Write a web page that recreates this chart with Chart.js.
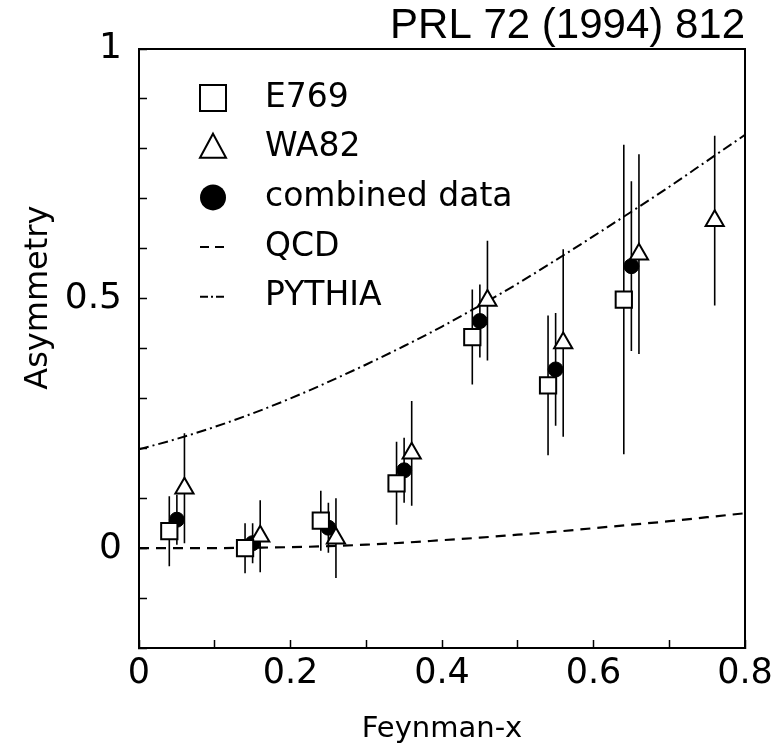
<!DOCTYPE html>
<html>
<head>
<meta charset="utf-8">
<title>Asymmetry vs Feynman-x</title>
<script src="https://cdn.jsdelivr.net/npm/chart.js@4.4.0/dist/chart.umd.min.js"></script>
<style>
  html, body { margin: 0; padding: 0; background: #fff; }
  canvas { display: block; }
</style>
</head>
<body>
<canvas id="asymChart" width="779" height="749"></canvas>
<script>
// --- static chart, no animation ---
Chart.defaults.animation = false;
Chart.defaults.font.family = '"DejaVu Sans", sans-serif';
Chart.defaults.color = '#000';

// E769 (open squares)
const e769X   = [0.04, 0.14, 0.24, 0.34, 0.44, 0.54, 0.64];
const e769Y   = [0.034, 0.0, 0.055, 0.13, 0.423, 0.326, 0.498];
const e769Err = [0.07, 0.05, 0.06, 0.083, 0.095, 0.14, 0.31];

// WA82 (open triangles)
const wa82X   = [0.06, 0.16, 0.26, 0.36, 0.46, 0.56, 0.66, 0.76];
const wa82Y   = [0.12, 0.024, 0.02, 0.19, 0.496, 0.411, 0.589, 0.656];
const wa82Err = [0.11, 0.072, 0.08, 0.105, 0.12, 0.188, 0.2, 0.17];

// combined data (filled circles)
const combX   = [0.05, 0.15, 0.25, 0.35, 0.45, 0.55, 0.65];
const combY   = [0.057, 0.01, 0.041, 0.156, 0.455, 0.358, 0.565];
const combErr = [0.05, 0.04, 0.05, 0.065, 0.073, 0.113, 0.17];

// theory curves
const curveX    = [0, 0.05, 0.1, 0.15, 0.2, 0.25, 0.3, 0.35, 0.4, 0.45, 0.5, 0.55, 0.6, 0.65, 0.7, 0.75, 0.8];
const qcdY      = [0, 0, 0, 0.001, 0.002, 0.004, 0.007, 0.011, 0.016, 0.021, 0.027, 0.033, 0.04, 0.047, 0.054, 0.062, 0.07];
const pythiaY   = [0.198, 0.219, 0.243, 0.27, 0.3, 0.333, 0.368, 0.405, 0.444, 0.486, 0.53, 0.577, 0.625, 0.674, 0.724, 0.776, 0.828];

// axis ticks
const xMin = 0, xMax = 0.8, xStep = 0.1;
const yMin = -0.2, yMax = 1.0, yStep = 0.1;
const xLabelEvery = 2;              // label 0, 0.2, 0.4 ...
const yLabels = { 0: '0', 5: '0.5', 10: '1' };

const pts = (xs, ys) => xs.map((x, i) => ({ x: x, y: ys[i] }));

// vertical error bars as one broken line per series (null breaks the line)
function errBars(xs, ys, es) {
  const out = [];
  xs.forEach((x, i) => {
    out.push({ x: x, y: ys[i] - es[i] });
    out.push({ x: x, y: ys[i] + es[i] });
    out.push({ x: x, y: null });
  });
  return out;
}

const barStyle = { showLine: true, spanGaps: false, pointRadius: 0, borderColor: '#000', borderWidth: 1.6, inLegend: false };

// legend drawn inside the frame, top left
const insetLegend = {
  id: 'insetLegend',
  afterDatasetsDraw(chart) {
    const { ctx, chartArea } = chart;
    const mx = chartArea.left + 74, tx = chartArea.left + 126;
    let y = chartArea.top + 49;
    ctx.save();
    ctx.font = '33px "DejaVu Sans", sans-serif';
    ctx.textBaseline = 'middle';
    ctx.textAlign = 'left';
    chart.data.datasets.filter(d => d.inLegend).forEach(d => {
      ctx.strokeStyle = '#000';
      ctx.fillStyle = '#fff';
      ctx.lineWidth = 2;
      ctx.setLineDash([]);
      ctx.beginPath();
      if (d.pointStyle === 'rect') {
        ctx.rect(mx - 13, y - 13, 26, 26);
        ctx.fill(); ctx.stroke();
      } else if (d.pointStyle === 'triangle') {
        ctx.moveTo(mx, y - 14); ctx.lineTo(mx + 13, y + 10); ctx.lineTo(mx - 13, y + 10); ctx.closePath();
        ctx.fill(); ctx.stroke();
      } else if (d.pointStyle === 'circle') {
        ctx.fillStyle = '#000';
        ctx.arc(mx, y, 13, 0, Math.PI * 2);
        ctx.fill();
      } else {
        ctx.setLineDash(d.legendDash);
        ctx.moveTo(mx - 13, y); ctx.lineTo(mx + 14, y);
        ctx.stroke();
      }
      ctx.setLineDash([]);
      ctx.fillStyle = '#000';
      ctx.fillText(d.label, tx, y);
      y += 49.7;
    });
    ctx.restore();
  }
};

function makeAsymChart() {
  const el = document.getElementById('asymChart');
  new Chart(el, {
    type: 'scatter',
    data: {
      datasets: [
        { label: 'E769', data: pts(e769X, e769Y), pointStyle: 'rect', pointRadius: 11.5,
          pointBackgroundColor: '#fff', pointBorderColor: '#000', pointBorderWidth: 2, inLegend: true },
        { label: 'WA82', data: pts(wa82X, wa82Y), pointStyle: 'triangle', pointRadius: 10.5,
          pointBackgroundColor: '#fff', pointBorderColor: '#000', pointBorderWidth: 2, inLegend: true },
        { label: 'combined data', data: pts(combX, combY), pointStyle: 'circle', pointRadius: 7.5,
          pointBackgroundColor: '#000', pointBorderColor: '#000', pointBorderWidth: 1, inLegend: true },
        { label: 'E769 err', data: errBars(e769X, e769Y, e769Err), ...barStyle },
        { label: 'WA82 err', data: errBars(wa82X, wa82Y, wa82Err), ...barStyle },
        { label: 'combined err', data: errBars(combX, combY, combErr), ...barStyle },
        { label: 'QCD', data: pts(curveX, qcdY), showLine: true, pointRadius: 0,
          borderColor: '#000', borderWidth: 2.2, borderDash: [10, 7], cubicInterpolationMode: 'monotone',
          inLegend: true, legendDash: [9, 6] },
        { label: 'PYTHIA', data: pts(curveX, pythiaY), showLine: true, pointRadius: 0,
          borderColor: '#000', borderWidth: 2, borderDash: [10, 4, 2, 4], cubicInterpolationMode: 'monotone',
          inLegend: true, legendDash: [8, 3, 2, 3] }
      ]
    },
    options: {
      responsive: false,
      animation: false,
      events: [],
      layout: { padding: { top: 5, right: 34, left: 0, bottom: 0 } },
      plugins: {
        legend: { display: false },
        tooltip: { enabled: false },
        title: {
          display: true,
          text: 'PRL 72 (1994) 812',
          align: 'end',
          color: '#000',
          font: { family: '"Liberation Sans", Arial, sans-serif', size: 42, weight: 'normal', lineHeight: 1 },
          padding: { top: 0, bottom: 2 }
        }
      },
      scales: {
        x: {
          type: 'linear', position: 'bottom', min: xMin, max: xMax,
          afterFit: s => { s.height = 101; },
          grid: { display: true, drawOnChartArea: false, drawTicks: true, tickLength: -8, tickColor: '#000', tickWidth: 1.5 },
          border: { display: true, color: '#000', width: 2 },
          ticks: {
            // small padding keeps the plot wide; the taller line box sets the label drop
            stepSize: xStep, autoSkip: false, maxRotation: 0, padding: 4, color: '#000',
            font: { size: 35, lineHeight: 1.71 },
            callback: v => {
              const r = Math.round(v * 10);
              if (r % xLabelEvery !== 0) return '';
              return r === 0 ? '0' : (r / 10).toFixed(1);
            }
          },
          title: { display: true, text: 'Feynman-x', color: '#000', font: { size: 29 }, padding: { top: 0, bottom: 2 } }
        },
        y: {
          type: 'linear', position: 'left', min: yMin, max: yMax,
          afterFit: s => { s.width = 139; },
          grid: { display: true, drawOnChartArea: false, drawTicks: true, tickLength: -8, tickColor: '#000', tickWidth: 1.5 },
          border: { display: true, color: '#000', width: 2 },
          ticks: {
            stepSize: yStep, autoSkip: false, padding: 25, color: '#000',
            font: { size: 36 },
            callback: v => yLabels[Math.round(v * 10)] || ''
          },
          title: { display: true, text: '          Asymmetry', color: '#000', font: { size: 32 }, padding: { top: 19, bottom: 0 } }
        },
        x2: {
          type: 'linear', position: 'top', min: xMin, max: xMax,
          afterFit: s => { s.height = 0; },
          grid: { display: false },
          border: { display: true, color: '#000', width: 2 },
          ticks: { display: false }
        },
        y2: {
          type: 'linear', position: 'right', min: yMin, max: yMax,
          afterFit: s => { s.width = 0; },
          grid: { display: false },
          border: { display: true, color: '#000', width: 2 },
          ticks: { display: false }
        }
      }
    },
    plugins: [insetLegend]
  });
}

makeAsymChart();
</script>
</body>
</html>
